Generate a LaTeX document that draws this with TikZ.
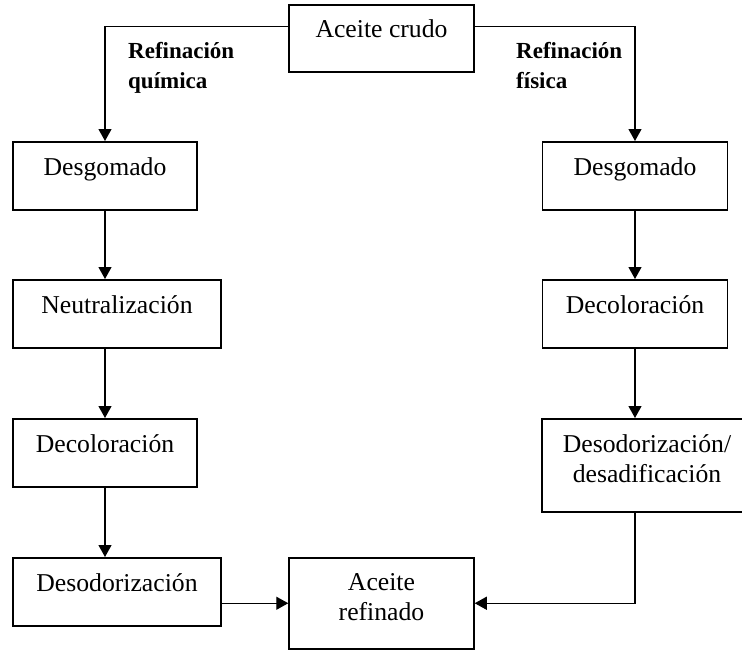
\documentclass[tikz,border=0pt]{standalone}
\usepackage{fontspec}
\setmainfont{Liberation Serif}
\usetikzlibrary{arrows.meta}

\begin{document}
\begin{tikzpicture}[x=1pt, y=-1pt,
    box/.style={draw, line width=1.5pt, rectangle, anchor=north, inner xsep=0pt, inner ysep=0pt,
        font=\fontsize{25.7}{30}\selectfont, text height=33.5pt, text depth=34.5pt},
    lbl/.style={anchor=north west, inner sep=0pt, align=left, font=\fontsize{23}{30}\bfseries\selectfont},
    flecha/.style={line width=1.2pt, -{Triangle[length=12pt,width=13pt]}}]

    \useasboundingbox (0,0) rectangle (742,649);

    % Start
    \node[box, minimum width=185pt, text height=33pt, text depth=34pt] (crudo) at (381.5,4) {Aceite crudo};

    % Refinacion quimica (left column)
    \node[box, minimum width=184pt] (D1) at (105,141) {Desgomado};
    \node[box, minimum width=208pt] (N)  at (117,279) {Neutralización};
    \node[box, minimum width=184pt] (C1) at (105,418) {Decoloración};
    \node[box, minimum width=208pt] (O1) at (117,557) {Desodorización};

    % Refinacion fisica (right column)
    \node[box, minimum width=185pt] (D2) at (635,141) {Desgomado};
    \node[box, minimum width=185pt] (C2) at (635,279) {Decoloración};
    \node[box, minimum width=210pt, align=center, text height=64pt, text depth=29pt] (O2) at (647,418) {Desodorización/\\desadificación};

    % End
    \node[box, minimum width=185pt, align=center, text height=63pt, text depth=28pt] (ref) at (381.5,557) {Aceite\\refinado};

    % Branch labels
    \node[lbl] (lq) at (128,42) {Refinación\\química};
    \node[lbl] (lf) at (516,42) {Refinación\\física};

    % Branches
    \draw[flecha] ([yshift=11.5pt]crudo.west) -| (D1.north);
    \draw[flecha] ([yshift=11.5pt]crudo.east) -| (D2.north);

    % Steps
    \foreach \a/\b in {D1/N, N/C1, C1/O1} {
        \draw[flecha] (\a.south -| D1) -- (\b.north -| D1);
    }
    \foreach \a/\b in {D2/C2, C2/O2} {
        \draw[flecha] (\a.south -| D2) -- (\b.north -| D2);
    }

    % Into refined oil
    \draw[flecha] (O1.east |- ref.west) -- (ref.west);
    \draw[flecha] (O2.south -| D2) |- (ref.east);

\end{tikzpicture}
\end{document}
